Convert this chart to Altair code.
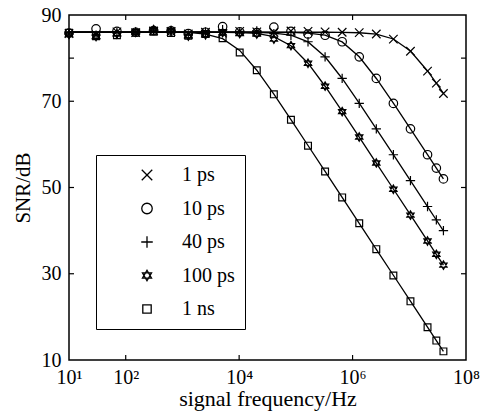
import altair as alt
import pandas as pd

# frequencies (Hz) of the plotted points
freqs = [10, 30, 70, 150, 310, 630, 1270, 2550, 5110, 10230, 20470, 40950,
         81910, 163830, 327670, 655350, 1310710, 2621430, 5242870,
         10485750, 20971510, 30000000, 40000000]

series = ["1 ps", "10 ps", "40 ps", "100 ps", "1 ns"]

# curve values (dB)
line_1ps = [86.0, 86.0, 86.0, 86.0, 86.0, 86.0, 86.0, 86.0, 86.0, 86.0, 86.0, 86.0,
            86.0, 86.0, 86.0, 85.97, 85.88, 85.56, 84.44, 81.65, 77.02, 74.20, 71.83]
line_10ps = [86.0, 86.0, 86.0, 86.0, 86.0, 86.0, 86.0, 86.0, 86.0, 86.0, 86.0, 85.99,
             85.95, 85.82, 85.32, 83.76, 80.32, 75.28, 69.55, 63.60, 57.60, 54.50, 52.00]
line_40ps = [86.0, 86.0, 86.0, 86.0, 86.0, 86.0, 86.0, 86.0, 86.0, 86.0, 85.95, 85.82,
             85.32, 83.76, 80.32, 75.28, 69.55, 63.60, 57.60, 51.59, 45.57, 42.46, 39.96]
line_100ps = [86.0, 86.0, 86.0, 86.0, 86.0, 86.0, 86.0, 86.0, 85.98, 85.93, 85.72, 84.98,
              82.87, 78.83, 73.48, 67.65, 61.68, 55.67, 49.65, 43.63, 37.61, 34.50, 32.00]
line_1ns = [86.0, 86.0, 86.0, 86.0, 86.0, 86.0, 85.99, 85.58, 84.51, 81.78, 77.20, 71.63,
            65.73, 59.74, 53.73, 47.71, 41.69, 35.67, 29.65, 23.63, 17.61, 14.50, 12.00]

# marker values (dB)
pts_1ps = [85.7, 85.4, 86.1, 85.9, 86.3, 86.2, 85.6, 86.0, 85.8, 86.2, 86.1, 86.0,
           86.3, 86.2, 86.1, 86.0, 85.9, 85.6, 84.4, 81.6, 77.0, 74.2, 71.8]
pts_10ps = [85.8, 86.8, 86.2, 86.0, 86.4, 86.3, 85.7, 86.0, 87.3, 86.1, 85.9, 87.2,
            86.2, 85.6, 85.3, 83.8, 80.3, 75.3, 69.5, 63.6, 57.6, 54.5, 52.0]
pts_40ps = [85.6, 85.3, 85.9, 86.0, 86.5, 86.2, 85.4, 86.1, 86.6, 85.8, 86.3, 85.7,
            85.3, 83.8, 80.3, 75.3, 69.5, 63.6, 57.6, 51.6, 45.6, 42.5, 40.0]
pts_100ps = [85.5, 85.0, 85.6, 86.0, 86.6, 86.4, 85.1, 85.4, 85.9, 85.7, 85.6, 84.4,
             82.9, 78.8, 73.5, 67.6, 61.7, 55.7, 49.6, 43.6, 37.6, 34.5, 32.0]
pts_1ns = [85.9, 85.1, 85.3, 85.9, 86.1, 85.8, 85.2, 85.6, 84.6, 81.3, 77.2, 71.6,
           65.7, 59.7, 53.7, 47.7, 41.7, 35.7, 29.6, 23.6, 17.6, 14.5, 12.0]

x_label_vals = [10, 100, 10000, 1000000, 100000000]
x_tick_vals = [100, 10000, 1000000]
y_label_vals = [10, 30, 50, 70, 90]
y_tick_vals = [30, 50, 70, 80]

line_sets = [line_1ps, line_10ps, line_40ps, line_100ps, line_1ns]
pt_sets = [pts_1ps, pts_10ps, pts_40ps, pts_100ps, pts_1ns]

line_df = pd.DataFrame([
    {"series": s, "f": f, "snr": v, "order": i}
    for s, vals in zip(series, line_sets) for i, (f, v) in enumerate(zip(freqs, vals))
])
pt_df = pd.DataFrame([
    {"series": s, "f": f, "snr": v}
    for s, vals in zip(series, pt_sets) for f, v in zip(freqs, vals)
])
xt_df = pd.DataFrame({"f": x_tick_vals})
yt_df = pd.DataFrame({"snr": y_tick_vals})

FONT = "Liberation Serif"
W, H = 397, 345

x_scale = alt.Scale(type="log", domain=[10, 1e8], nice=False)
y_scale = alt.Scale(domain=[10, 90], nice=False, zero=False)

shapes = [
    "M-1,-1L1,1M-1,1L1,-1",
    "circle",
    "M-1.1,0L1.1,0M0,-1.1L0,1.1",
    "M0,-1L0.866,0.5L-0.866,0.5ZM0,1L0.866,-0.5L-0.866,-0.5Z",
    "M-0.8,-0.8L0.8,-0.8L0.8,0.8L-0.8,0.8Z",
]

x_axis = alt.Axis(
    values=x_label_vals,
    labelExpr="'10' + ['⁰','¹','²','³','⁴','⁵','⁶','⁷','⁸'][round(log(datum.value)/LN10)]",
    title="signal frequency/Hz", ticks=False, tickSize=0, grid=False, domain=False,
    labelFont=FONT, labelFontSize=20, labelColor="black", labelPadding=7,
    titleFont=FONT, titleFontSize=22, titleFontWeight="normal", titleColor="black",
    titlePadding=1, labelFlush=False, labelOverlap=False,
)
y_axis = alt.Axis(
    values=y_label_vals, title="SNR/dB", ticks=False, tickSize=0, grid=False,
    domain=False, labelFont=FONT, labelFontSize=20, labelColor="black",
    labelPadding=8, titleFont=FONT, titleFontSize=21, titleFontWeight="normal",
    titleColor="black", titlePadding=8, labelFlush=False, labelOverlap=False,
)

lines = alt.Chart(line_df).mark_line(color="black", strokeWidth=1.3).encode(
    x=alt.X("f:Q", scale=x_scale, axis=x_axis),
    y=alt.Y("snr:Q", scale=y_scale, axis=y_axis),
    detail="series:N",
    order="order:Q",
)

points = alt.Chart(pt_df).mark_point(
    filled=False, color="black", strokeWidth=1.2, size=72, opacity=1
).encode(
    x="f:Q",
    y="snr:Q",
    shape=alt.Shape(
        "series:N",
        scale=alt.Scale(domain=series, range=shapes),
        sort=series,
        legend=alt.Legend(
            title=None, orient="none", legendX=27, legendY=140,
            strokeColor="black", fillColor="white", padding=10,
            symbolOffset=31, labelOffset=25,
            labelFont=FONT, labelFontSize=20, labelColor="black",
            symbolSize=110, symbolStrokeWidth=1.3, symbolStrokeColor="black",
            symbolFillColor="transparent", rowPadding=13.5,
        ),
    ),
)

tick_bottom = alt.Chart(xt_df).mark_rule(color="black", strokeWidth=1.2).encode(
    x="f:Q", y=alt.value(H), y2=alt.value(H - 5))
tick_top = alt.Chart(xt_df).mark_rule(color="black", strokeWidth=1.2).encode(
    x="f:Q", y=alt.value(0), y2=alt.value(5))
tick_left = alt.Chart(yt_df).mark_rule(color="black", strokeWidth=1.2).encode(
    y="snr:Q", x=alt.value(0), x2=alt.value(5))
tick_right = alt.Chart(yt_df).mark_rule(color="black", strokeWidth=1.2).encode(
    y="snr:Q", x=alt.value(W), x2=alt.value(W - 5))

chart = alt.layer(lines, points, tick_bottom, tick_top, tick_left, tick_right).properties(
    width=W, height=H,
    autosize=alt.AutoSizeParams(type="none"),
    padding={"left": 69, "top": 15, "right": 20, "bottom": 54},
    background="white",
).configure_view(stroke="black", strokeWidth=1.5)

chart.save("out.html", embed_options={"renderer": "svg", "actions": False})
